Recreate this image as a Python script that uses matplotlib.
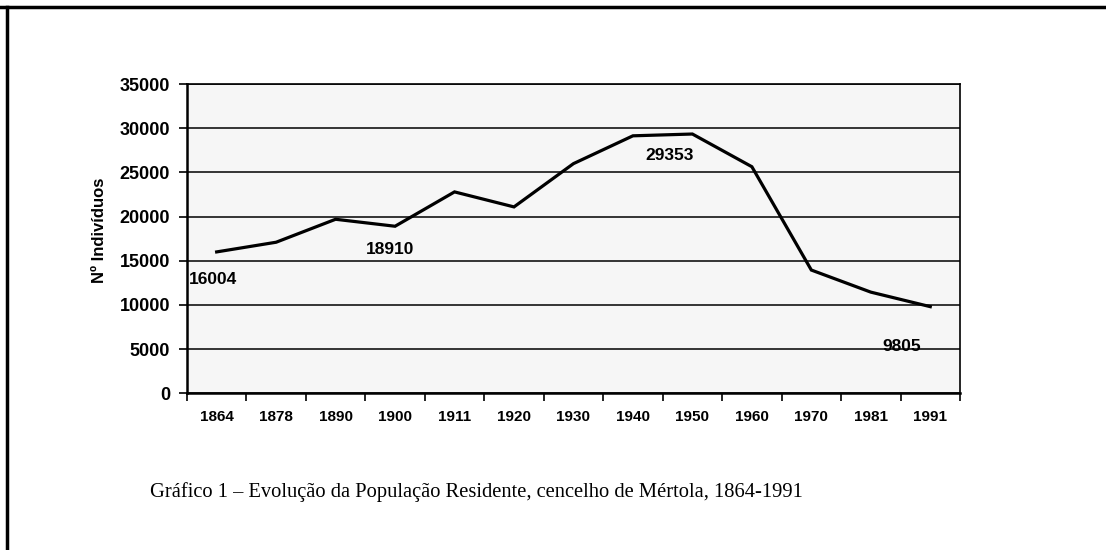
import matplotlib.pyplot as plt
from matplotlib.lines import Line2D

years = ['1864', '1878', '1890', '1900', '1911', '1920', '1930',
         '1940', '1950', '1960', '1970', '1981', '1991']
population = [16004, 17100, 19700, 18910, 22800, 21100, 26000,
              29150, 29353, 25650, 13950, 11450, 9805]
labelled = {0: (-4, -28), 3: (-5, -23), 8: (-23, -21), 12: (-29, -40)}

narrow = ['Liberation Sans Narrow', 'Liberation Sans', 'DejaVu Sans']

fig = plt.figure(figsize=(11.06, 5.5), dpi=100)
ax = fig.add_axes([0.169, 0.285, 0.699, 0.562])
ax.set_facecolor('#f6f6f6')

x = list(range(len(years)))
ax.plot(x, population, color='black', lw=2.3, solid_joinstyle='miter')

for i, (dx, dy) in labelled.items():
    ax.annotate(str(population[i]), xy=(i, population[i]), xytext=(dx, dy),
                textcoords='offset pixels', ha='center', va='center',
                fontsize=12.5, fontweight='bold', family=narrow)

ax.set_xlim(-0.5, len(years) - 0.5)
ax.set_ylim(0, 35000)
ax.set_yticks(range(0, 35001, 5000))
ax.yaxis.grid(True, color='black', lw=1.1)
ax.set_axisbelow(False)

ax.set_xticks([i - 0.5 for i in range(len(years) + 1)])
ax.set_xticklabels([])
ax.set_xticks(x, minor=True)
ax.set_xticklabels(years, minor=True, fontsize=11, fontweight='bold', family=narrow)
ax.tick_params(axis='x', which='minor', length=0, pad=12)
ax.tick_params(axis='x', which='major', length=6, width=1.2, direction='out')
ax.tick_params(axis='y', length=6, width=1.2, direction='out', pad=6)
for lab in ax.get_yticklabels():
    lab.set_fontsize(13)
    lab.set_fontweight('bold')
    lab.set_family('Liberation Sans')

for s in ax.spines.values():
    s.set_linewidth(1.2)
    s.set_color('black')
ax.spines['bottom'].set_linewidth(1.8)
ax.spines['left'].set_linewidth(1.8)

fig.text(100 / 1106, 1 - 230 / 550, 'Nº Indivíduos', rotation=90,
         ha='center', va='center', fontsize=12, fontweight='bold', family=narrow)

fig.text(150 / 1106, 1 - 492 / 550,
         'Gráfico 1 – Evolução da População Residente, cencelho de Mértola, 1864-1991',
         ha='left', va='center', fontsize=14.8, family='Liberation Serif')

# page border from the scan
fig.add_artist(Line2D([0, 1], [1 - 7 / 550, 1 - 7 / 550], transform=fig.transFigure,
                      color='black', lw=2.5))
fig.add_artist(Line2D([7 / 1106, 7 / 1106], [0, 1 - 7 / 550], transform=fig.transFigure,
                      color='black', lw=2.5))

fig.savefig('out.png', dpi=100)
